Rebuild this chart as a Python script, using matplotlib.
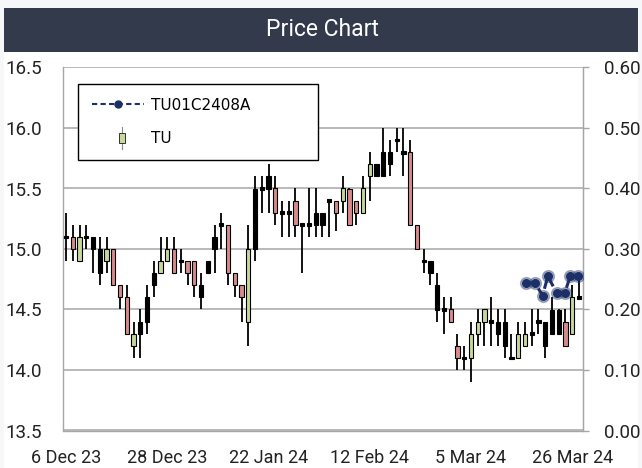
import matplotlib
matplotlib.use("Agg")
import matplotlib.pyplot as plt
from matplotlib.patches import Rectangle
from matplotlib.lines import Line2D
from matplotlib.legend_handler import HandlerBase

# ---------------- data ----------------
x_tick_pos = [0, 15, 30, 45, 60, 75]
x_tick_labels = ["6 Dec 23", "28 Dec 23", "22 Jan 24", "12 Feb 24", "5 Mar 24", "26 Mar 24"]

opens = [15.1, 15.1, 14.9, 15.1, 15.1, 15.0, 14.9, 15.0, 14.7, 14.6,
         14.2, 14.4, 14.6, 14.8, 14.8, 14.9, 15.0, 14.9, 14.9, 14.9,
         14.7, 14.9, 15.1, 15.2, 15.2, 14.8, 14.7, 14.4, 15.5, 15.5,
         15.6, 15.5, 15.3, 15.3, 15.4, 15.2, 15.2, 15.3, 15.3, 15.4,
         15.4, 15.4, 15.5, 15.4, 15.3, 15.6, 15.7, 15.8, 15.8, 15.9,
         15.8, 15.8, 15.2, 14.9, 14.9, 14.7, 14.5, 14.5, 14.2, 14.1,
         14.1, 14.3, 14.4, 14.4, 14.4, 14.4, 14.1, 14.1, 14.2, 14.3,
         14.4, 14.4, 14.5, 14.5, 14.4, 14.3, 14.6]
highs = [15.3, 15.2, 15.2, 15.2, 15.1, 15.1, 15.1, 15.0, 14.7, 14.7,
         14.4, 14.5, 14.7, 14.9, 15.1, 15.1, 15.1, 15.0, 14.9, 14.9,
         14.8, 14.9, 15.2, 15.3, 15.2, 14.8, 14.7, 15.2, 15.6, 15.6,
         15.7, 15.6, 15.4, 15.4, 15.5, 15.2, 15.5, 15.5, 15.3, 15.4,
         15.4, 15.6, 15.5, 15.4, 15.6, 15.8, 15.7, 16.0, 15.9, 16.0,
         16.0, 15.9, 15.2, 15.0, 14.9, 14.8, 14.6, 14.6, 14.3, 14.2,
         14.4, 14.5, 14.5, 14.6, 14.5, 14.5, 14.3, 14.4, 14.4, 14.5,
         14.5, 14.4, 14.6, 14.5, 14.5, 14.7, 14.8]
lows = [14.9, 14.9, 14.9, 15.0, 14.8, 14.7, 14.8, 14.7, 14.5, 14.3,
        14.1, 14.1, 14.3, 14.6, 14.8, 14.9, 14.8, 14.8, 14.7, 14.6,
        14.5, 14.8, 14.8, 15.0, 14.7, 14.6, 14.4, 14.2, 14.9, 15.3,
        15.3, 15.2, 15.1, 15.1, 15.1, 14.8, 15.1, 15.1, 15.1, 15.1,
        15.15, 15.3, 15.2, 15.2, 15.3, 15.4, 15.6, 15.6, 15.6, 15.8,
        15.6, 15.2, 15.0, 14.8, 14.7, 14.4, 14.3, 14.4, 14.0, 14.0,
        13.9, 14.2, 14.2, 14.2, 14.2, 14.1, 14.1, 14.1, 14.2, 14.2,
        14.3, 14.1, 14.3, 14.3, 14.2, 14.3, 14.6]
closes = [15.1, 15.0, 15.1, 15.1, 15.0, 14.8, 15.0, 14.7, 14.6, 14.3,
          14.3, 14.3, 14.4, 14.7, 14.9, 15.0, 14.8, 14.9, 14.8, 14.7,
          14.6, 14.8, 15.0, 15.2, 14.8, 14.7, 14.6, 15.0, 15.0, 15.5,
          15.5, 15.3, 15.3, 15.3, 15.2, 15.2, 15.2, 15.2, 15.2, 15.4,
          15.3, 15.5, 15.2, 15.3, 15.5, 15.7, 15.6, 15.6, 15.7, 15.9,
          15.8, 15.2, 15.0, 14.9, 14.8, 14.5, 14.5, 14.4, 14.1, 14.1,
          14.3, 14.4, 14.5, 14.4, 14.3, 14.2, 14.1, 14.3, 14.3, 14.3,
          14.4, 14.2, 14.3, 14.3, 14.2, 14.6, 14.6]
# candle fill class: g = up (green), r = down (red), k = black
kinds = ["k", "r", "g", "k", "k", "k", "g", "r", "r", "r",
         "g", "k", "k", "k", "g", "g", "r", "k", "r", "r",
         "k", "k", "k", "k", "r", "r", "r", "g", "k", "k",
         "k", "r", "k", "k", "r", "k", "k", "k", "k", "k",
         "r", "g", "r", "r", "g", "g", "k", "k", "k", "k",
         "k", "r", "r", "k", "k", "k", "k", "r", "r", "k",
         "g", "g", "g", "k", "k", "k", "k", "g", "g", "k",
         "k", "k", "k", "k", "r", "g", "k"]

series_name = "TU01C2408A"
series_x = [68.2, 69.5, 70.6, 71.4, 72.7, 73.9, 74.7, 75.9]
series_y = [0.244, 0.244, 0.223, 0.255, 0.227, 0.227, 0.255, 0.255]
candle_name = "TU"

# ---------------- style ----------------
W, H = 642, 468
NAVY = "#1c2f66"
GRID = "#a6a6a6"
FILL = {"g": "#c6d99a", "r": "#d98a8c", "k": "#000000"}
TICK_FONT = "Roboto"

fig = plt.figure(figsize=(W / 100, H / 100), dpi=100)
fig.patch.set_facecolor("#f6f7f9")
fig.patches.append(Rectangle((4 / W, 0), 634 / W, (H - 8) / H, transform=fig.transFigure,
                             facecolor="white", edgecolor="none", zorder=-10))
fig.patches.append(Rectangle((4 / W, (H - 52) / H), 634 / W, 44 / H, transform=fig.transFigure,
                             facecolor="#323a4c", edgecolor="none", zorder=-5))
fig.text(322 / W, (H - 29) / H, "Price Chart", color="white", ha="center", va="center",
         fontsize=16.5, family=TICK_FONT)

ax = fig.add_axes([63 / W, (H - 430.5) / H, 520 / W, 363 / H])
ax.set_xlim(-0.45, 76.6)
ax.set_ylim(13.5, 16.5)
ax.set_yticks([13.5, 14.0, 14.5, 15.0, 15.5, 16.0, 16.5])
ax.set_yticklabels([f"{v:.1f}" for v in ax.get_yticks()])
ax.grid(axis="y", color=GRID, lw=1.1)
ax.set_axisbelow(True)
for s in ax.spines.values():
    s.set_color(GRID)
    s.set_linewidth(1.0)
ax.spines["top"].set_visible(False)
ax.tick_params(axis="y", length=0, pad=41.5, labelsize=13.5, colors="#222222")
for t in ax.get_yticklabels():
    t.set_horizontalalignment("left")
    t.set_family(TICK_FONT)
ax.set_xticks(x_tick_pos)
ax.set_xticklabels(x_tick_labels, family=TICK_FONT)
ax.tick_params(axis="x", length=0, pad=13, labelsize=13, colors="#222222")

bw = 0.62
for i, (o, h, l, c, k) in enumerate(zip(opens, highs, lows, closes, kinds)):
    ax.vlines(i, l, h, color="black", lw=1.3, zorder=3)
    lo = min(o, c)
    hgt = max(abs(c - o), 0.022)
    if abs(c - o) < 1e-9:
        lo = o - 0.011
    ax.add_patch(Rectangle((i - bw / 2, lo), bw, hgt, facecolor=FILL[k],
                           edgecolor="black", lw=0.8, zorder=4))

ax2 = ax.twinx()
ax2.set_ylim(0, 0.6)
ax2.set_yticks([0, 0.1, 0.2, 0.3, 0.4, 0.5, 0.6])
ax2.set_yticklabels([f"{v:.2f}" for v in ax2.get_yticks()], family=TICK_FONT)
ax2.tick_params(axis="y", length=4, width=1, color=GRID, pad=11, labelsize=13.5, colors="#222222")
ax2.tick_params(axis="y", color=GRID)
for s in ax2.spines.values():
    s.set_visible(False)
ax2.spines["right"].set_visible(True)
ax2.spines["right"].set_color(GRID)
ax2.plot(series_x, series_y, ls="none", marker="o", ms=8.5, color=NAVY, alpha=0.35, zorder=5)
ax2.plot(series_x, series_y, ls="--", dashes=(3, 2), lw=2.2, color=NAVY, marker="o", ms=5.5, zorder=6)


class HandlerCandle(HandlerBase):
    def create_artists(self, legend, orig_handle, xdescent, ydescent, width, height, fontsize, trans):
        cx = width / 2 - xdescent + 3
        line = Line2D([cx, cx], [-0.55 * height, 1.45 * height], color="#888888", lw=0.8, transform=trans)
        rect = Rectangle((cx - 2.2, 0.0), 4.4, height * 0.95, facecolor=FILL["g"],
                         edgecolor="#333333", lw=0.7, transform=trans)
        return [line, rect]


h1 = Line2D([], [], ls="--", dashes=(2.5, 1.6), lw=1.5, color=NAVY, marker="o", ms=5)
h2 = Rectangle((0, 0), 1, 1)
leg = ax.legend([h1, h2], [series_name, candle_name], loc="upper left",
                bbox_to_anchor=(0.029, 0.75, 0.461, 0.205), mode="expand",
                borderaxespad=0, handlelength=3.4, handletextpad=0.45, labelspacing=1.2,
                borderpad=0.9, numpoints=1, fancybox=False, framealpha=1,
                edgecolor="black", prop={"family": "DejaVu Sans", "size": 11},
                handler_map={Rectangle: HandlerCandle()})
leg.get_frame().set_linewidth(1.0)
leg.set_zorder(10)

fig.savefig("out.png", dpi=100, facecolor=fig.get_facecolor())
